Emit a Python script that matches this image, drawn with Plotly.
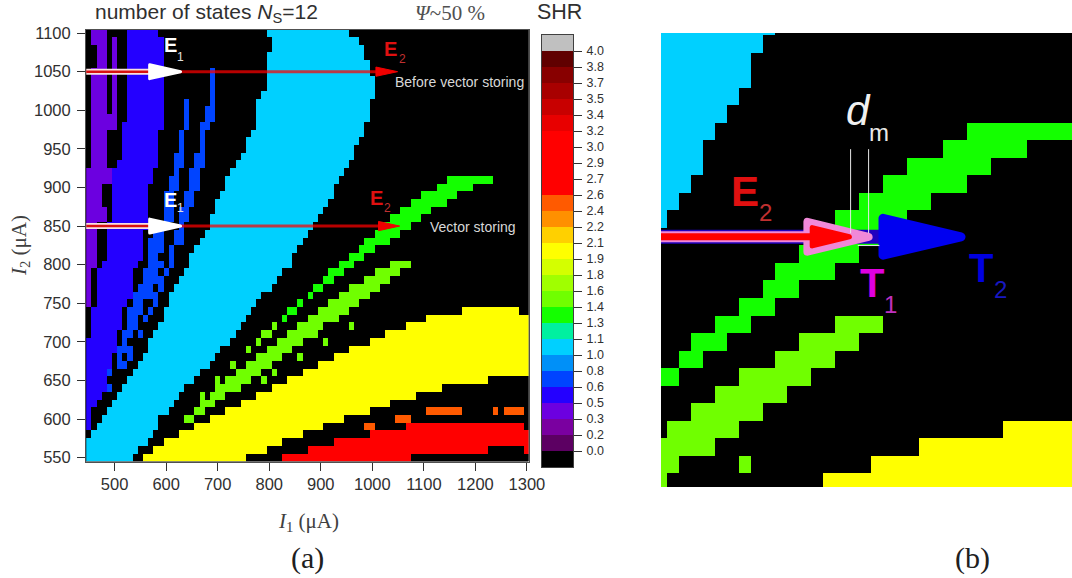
import numpy as np
import plotly.graph_objects as go

W, H = 1072, 578

# ---------- grid ----------
i1_values = list(range(450, 1301, 10))
i2_values = list(range(550, 1101, 10))

# ---------- colour bar ----------
shr_ticks = ["0.0","0.2","0.3","0.5","0.6","0.8","1.0","1.1","1.3","1.4","1.6","1.8","1.9",
             "2.1","2.2","2.4","2.6","2.7","2.9","3.0","3.2","3.4","3.5","3.7","3.8","4.0"]
level_colors = ["#000000","#5c0062","#7a00a0","#6c00e0","#2400ff","#0044ff","#0090f8","#00d0ff",
                "#00f0a0","#14ff00","#70ff00","#a0ff00","#d4ff00","#ffff00","#ffd000","#ff9000",
                "#ff5a00","#ff0000","#ff0000","#ff0000","#ff0000","#e80000","#c80000","#a80000",
                "#880000","#600000","#c0c0c0"]

# ---------- SHR regions: (I2 top, I2 bottom, I1 left edge, I1 right edge) ----------
purple_runs = [(1100,1090,450,480),(1090,1000,490,500),(1080,1060,460,480),(1050,1000,450,480),
               (990,980,450,500),(970,930,450,480),(920,910,440,490),(900,880,440,470),
               (870,860,440,480),(850,800,440,460),(790,750,440,450)]
blue_runs = [(1100,1100,520,580),(1090,990,520,590),(980,980,510,590),(970,940,510,580),
             (930,930,500,580),(920,910,490,570),(900,860,490,560),(850,850,480,560),
             (840,810,480,550),(800,800,470,540),(790,760,460,530),(750,750,460,520),
             (740,720,450,510),(710,710,450,500),(700,690,440,500),(680,670,440,490),
             (660,640,440,480),(630,630,440,470),(620,620,440,460),(610,590,440,450)]
midblue_runs = [(1010,980,630,640),(970,950,620,630),(940,930,610,630),(920,920,610,620),
                (910,900,600,620),(890,860,590,610),(850,850,580,600),(840,840,570,590),
                (830,820,560,590),(810,810,560,580),(800,800,560,590),(790,780,550,580),
                (770,770,540,570),(760,760,530,570),(750,750,530,550),(740,740,520,550),
                (730,720,520,540),(710,710,510,530),(700,700,510,520),(690,690,500,530),
                (680,680,500,510),(680,680,520,530),(670,670,500,520),(660,660,480,490),
                (640,640,480,490),
                (1050,1010,680,690),(1000,990,670,690),(980,980,660,680),(970,950,660,670),
                (940,930,650,670),(920,900,640,660),(890,880,630,650),(870,860,620,640),
                (850,850,620,630),(840,830,610,630),(820,800,600,610),(790,790,590,600),
                (780,770,580,590),(760,750,570,580),(740,740,560,570),(730,730,550,560),
                (710,710,540,550)]
cyan_left = [790,800,800,790,790,790,790,790,780,770,770,770,770,760,750,750,740,730,720,710,
             710,700,690,690,680,680,670,660,650,640,640,630,620,610,600,600,590,590,580,570,
             560,560,550,540,530,520,510,500,490,480,470,460,450,440,440,440]
cyan_right = [950,970,980,980,990,990,1000,1000,1000,990,990,990,980,980,970,960,960,950,940,930,
              920,920,910,900,890,880,870,860,850,840,840,820,810,800,780,770,760,750,740,730,
              720,700,690,680,660,650,630,620,610,600,580,580,570,560,540,530]
green_runs = [(910,910,1140,1230),(900,900,1120,1190),(890,890,1090,1160),(880,880,1070,1140),
              (870,870,1050,1110),(860,860,1030,1090),(850,850,1010,1070),(840,840,1000,1050),
              (830,830,980,1030),(820,820,970,1000),(810,810,950,980),(800,800,930,960),
              (790,790,910,940),(780,780,900,920),(770,770,880,900),(760,760,870,880),
              (750,750,850,860),(740,740,830,850),(730,730,820,830)]
lime_runs = [(800,800,1030,1070),(790,790,1000,1050),(780,780,980,1030),(770,770,950,1010),
             (760,760,930,990),(750,750,910,970),(740,740,890,950),(730,730,870,930),
             (720,720,850,900),(710,710,830,890),(700,700,810,860),(690,690,790,840),
             (680,680,770,820),(670,670,750,800),(660,660,730,780),(650,650,710,760),
             (640,640,690,740),(630,630,680,710),(620,620,670,690),(610,610,650,670),
             (600,600,630,650),
             (720,720,950,960),(700,700,900,910),(680,680,850,860),(660,660,800,810),
             (650,650,780,790),(720,720,800,810),(710,710,780,800),(700,700,770,780),
             (690,690,750,760),(670,670,720,730),(650,650,690,700),(630,620,660,670)]
yellow_runs = [(740,740,1170,1280),(730,730,1100,1310),(720,720,1060,1310),(710,710,1020,1310),
               (700,700,990,1310),(690,690,950,1310),(680,680,920,1310),(670,670,890,1310),
               (660,660,860,1310),(650,650,830,1220),(640,640,800,1130),(630,630,770,1080),
               (620,620,740,1030),(610,610,710,990),(600,600,680,940),(590,590,650,900),
               (580,580,620,860),(570,570,590,820),(560,560,570,790),(550,550,550,750)]
red_runs = [(550,550,820,1070),(560,560,870,1220),(560,560,1290,1310),(570,570,920,1310),
            (580,580,990,1310),(590,590,1060,1290)]
orange_runs = [(590,590,980,1000),(600,600,1040,1070),(610,610,1100,1170),(610,610,1230,1240),
               (610,610,1250,1290)]

# ---------- arrows (I1 positions) ----------
arrow_rows = [1050, 850]
white_head = [568, 628]
red_head_tips = [(1007, 1049), (1012, 1053)]

x_arr = np.array(i1_values)
y_arr = np.array(i2_values)
z = np.zeros((len(y_arr), len(x_arr)))

def paint(runs, code):
    for top, bot, l, r in runs:
        z[np.ix_((y_arr <= top) & (y_arr >= bot), (x_arr > l) & (x_arr <= r))] = code

for i, y in enumerate(i2_values[::-1]):
    paint([(y, y, cyan_left[i], cyan_right[i])], 7)
paint(purple_runs, 3)
paint(blue_runs, 4)
paint(midblue_runs, 5)
paint(lime_runs, 10)
paint(green_runs, 9)
paint(yellow_runs, 13)
paint(red_runs, 17)
paint(orange_runs, 16)

n = len(level_colors)
scale = []
for i, c in enumerate(level_colors):
    scale += [[i / n, c], [(i + 1) / n, c]]

def px(x): return x / W
def py(y): return 1 - y / H

fig = go.Figure()
common = dict(colorscale=scale, zmin=0, zmax=n, showscale=False, hoverinfo="skip")
fig.add_trace(go.Heatmap(z=z, x=i1_values, y=i2_values, xaxis="x", yaxis="y", **common))
fig.add_trace(go.Heatmap(z=z, x=i1_values, y=i2_values, xaxis="x2", yaxis="y2", **common))
fig.add_trace(go.Heatmap(z=[[i] for i in range(n)], x=[0], y=[i + 0.5 for i in range(n)],
                         xaxis="x3", yaxis="y3", **common))

shapes = []
def line(x0, x1, y, color, width, xr="x", yr="y"):
    shapes.append(dict(type="line", xref=xr, yref=yr, x0=x0, x1=x1, y0=y, y1=y,
                       line=dict(color=color, width=width)))
def head(xb, xt, y, hh, color, lw=0, xr="x", yr="y"):
    shapes.append(dict(type="path", xref=xr, yref=yr,
                       path=f"M {xb},{y-hh} L {xt},{y} L {xb},{y+hh} Z",
                       fillcolor=color, line=dict(color=color, width=lw)))

for y, (rb, rt) in zip(arrow_rows, red_head_tips):
    line(white_head[1] - 5, rb + 2, y, "rgba(255,0,0,0.72)", 3)
    line(445, white_head[0] + 2, y, "#f8e0e0", 6)
    line(445, white_head[0] + 2, y, "#d81010", 2.5)
    head(white_head[0], white_head[1], y, 9, "white", 3)
    head(rb, rt, y, 6, "#f00000", 1)

# panel b arrow, in I1 units
b_y = 850
line(890, 1075, b_y, "#2000c0", 14, "x2", "y2")
head(1075, 1140, b_y, 10.5, "#0000f0", 9, "x2", "y2")
line(890, 1012, b_y, "#f088d8", 11, "x2", "y2")
head(1012, 1063, b_y, 8.5, "#f088d8", 8, "x2", "y2")
line(890, 1020, b_y, "#ff0000", 7, "x2", "y2")
head(1016, 1047, b_y, 5.2, "#ff0000", 5, "x2", "y2")

# dm guide lines
for xv in (1048, 1063):
    shapes.append(dict(type="line", xref="x2", yref="y2", x0=xv, x1=xv, y0=852, y1=900,
                       line=dict(color="#e8e8e8", width=1)))
shapes.append(dict(type="line", xref="x2", yref="y2", x0=1054, x1=1072, y0=845, y1=845,
                   line=dict(color="#e8e8e8", width=1)))

ann = []
def text(x, y, s, size, color, family="Liberation Sans", bold=False):
    t = f"<b>{s}</b>" if bold else s
    ann.append(dict(xref="paper", yref="paper", x=px(x), y=py(y), text=t, showarrow=False,
                    xanchor="center", yanchor="middle",
                    font=dict(family=family, size=size, color=color)))

text(206, 13, "number of states <i>N</i><sub>S</sub>=12", 21, "#303030")
text(450, 13, "<i>Ψ</i>~50 %", 21, "#505050", "Liberation Serif")
text(559, 12, "SHR", 21.5, "#303030")
text(170, 45, "E", 20, "white", bold=True)
text(180, 57, "1", 12, "#e0e0e0")
text(390, 49, "E", 20, "#e01010", bold=True)
text(402, 59, "2", 12, "#c03030")
text(170, 200, "E", 20, "white", bold=True)
text(180, 208, "1", 12, "#e0e0e0")
text(376, 198, "E", 20, "#e01010", bold=True)
text(387, 208, "2", 12, "#c03030")
text(459, 82, "Before vector storing", 14, "#d8d8d8")
text(473, 227, "Vector storing", 14, "#d8d8d8")
text(308, 522, "<i>I</i><sub>1</sub> (μA)", 21, "#404040", "Liberation Serif")
text(307, 558, "(a)", 30, "#202020", "Liberation Serif")
text(972, 558, "(b)", 30, "#202020", "Liberation Serif")
ann.append(dict(xref="paper", yref="paper", x=px(20), y=py(246), text="<i>I</i><sub>2</sub> (μA)",
                textangle=-90, showarrow=False, xanchor="center", yanchor="middle",
                font=dict(family="Liberation Serif", size=21, color="#404040")))
text(858, 110, "<i>d</i>", 42, "#f0f0f0")
text(879, 133, "m", 24, "#e8e8e8")
text(745, 191, "E", 42, "#e01010", bold=True)
text(765, 212, "2", 24, "#c03030")
text(871.5, 283, "T", 40, "#e000e0", bold=True)
text(890, 304, "1", 24, "#c030c0")
text(981, 268, "T", 40, "#0000e0", bold=True)
text(1000, 289, "2", 24, "#1818c0")

tickfont = dict(family="Liberation Sans", size=16.5, color="#303030")
fig.update_layout(
    width=W, height=H, margin=dict(l=0, r=0, t=0, b=0, pad=0), paper_bgcolor="white", plot_bgcolor="black",
    showlegend=False, shapes=shapes, annotations=ann,
    xaxis=dict(domain=[px(86), px(528.5)], range=[444.5, 1303], tickvals=list(range(500, 1301, 100)),
               ticks="outside", ticklen=8, tickcolor="#303030", showgrid=False, zeroline=False, automargin=False,
               showline=True, mirror=True, linecolor="#505050", tickfont=tickfont, anchor="y"),
    yaxis=dict(domain=[py(461.5), py(30)], range=[545, 1104], tickvals=list(range(550, 1101, 50)),
               ticks="outside", ticklen=8, ticklabelstandoff=3, tickcolor="#303030", showgrid=False, zeroline=False,
               automargin=False, showline=True, mirror=True, linecolor="#505050", tickfont=tickfont, anchor="x"),
    xaxis2=dict(domain=[px(661), px(1072)], range=[890, 1232.5], visible=False, anchor="y2", automargin=False),
    yaxis2=dict(domain=[py(487), py(33)], range=[707.2, 966.3], visible=False, anchor="x2", automargin=False),
    xaxis3=dict(domain=[px(542), px(573)], range=[-0.5, 0.5], showticklabels=False, ticks="", automargin=False,
                showgrid=False, zeroline=False, showline=True, mirror=True, linecolor="#404040", anchor="y3"),
    yaxis3=dict(domain=[py(467), py(35)], range=[0, n], side="right", tickvals=[i + 1 for i in range(n - 1)],
                ticktext=shr_ticks, ticks="outside", ticklen=8, ticklabelstandoff=2, tickcolor="#303030", showgrid=False,
                automargin=False, zeroline=False, showline=True, mirror=True, linecolor="#404040",
                tickfont=dict(family="Liberation Sans", size=12.5, color="#303030"), anchor="x3"),
)
fig.write_html("out.html", config={"displayModeBar": False},
               post_script="document.body.style.margin='0';document.body.style.overflow='hidden';"
                           "document.querySelectorAll('.shapelayer path').forEach(function(p){p.style.strokeLinejoin='round';});")
